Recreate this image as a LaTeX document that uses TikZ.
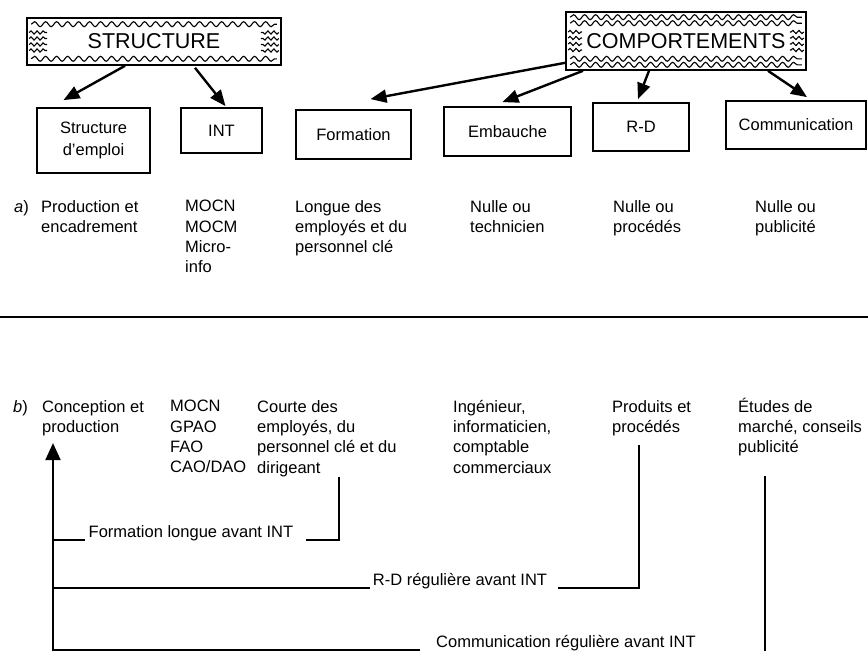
\documentclass[tikz,border=0pt]{standalone}
\usepackage{fontspec}
\setmainfont{Liberation Sans}
\usetikzlibrary{arrows.meta,calc,decorations.pathmorphing}

\tikzset{
  titre/.style={draw, line width=1.6pt, font=\fontsize{21.5}{24}\selectfont, inner sep=0},
  boite/.style={draw, line width=1.8pt, font=\fontsize{16.5}{22}\selectfont, align=center, inner sep=0},
  texte/.style={font=\fontsize{16.5}{20.3}\selectfont, align=left, anchor=north west, inner sep=0},
  legende/.style={font=\fontsize{16.5}{20}\selectfont, anchor=base, inner sep=0},
  fleche/.style={line width=2.4pt, -{Triangle[length=16pt,width=13pt]}},
  axe/.style={line width=2pt, -{Triangle[length=17pt,width=15pt]}, shorten >=7pt},
  trait/.style={line width=2pt},
  onde/.style={line width=1.1pt, decorate, decoration={snake, segment length=11pt, amplitude=2.5pt}},
  petiteonde/.style={line width=1.1pt, decorate, decoration={snake, segment length=6pt, amplitude=1.6pt}}
}

% bandeau ondule des en-tetes : #1 noeud, #2 rangees, #3 longueur laterale
\newcommand{\bandeau}[3]{%
  \foreach \dy in {#2}{
    \draw[onde] ([xshift=5pt,yshift=-\dy pt]#1.north west) -- ([xshift=-5pt,yshift=-\dy pt]#1.north east);
    \draw[onde] ([xshift=5pt,yshift=\dy pt]#1.south west) -- ([xshift=-5pt,yshift=\dy pt]#1.south east);
  }
  \foreach \dy in {-9,-3,3,9}{
    \draw[petiteonde] ([xshift=3pt,yshift=\dy pt]#1.west) -- ++(#3,0);
    \draw[petiteonde] ([xshift=-3pt,yshift=\dy pt]#1.east) -- ++(-#3,0);
  }
}

\begin{document}
\begin{tikzpicture}[x=1pt,y=-1pt]
\useasboundingbox (0,0) rectangle (868,651);

% en-tetes
\node[titre, minimum width=254pt, minimum height=47pt] (structure) at (154,41.5) {STRUCTURE};
\node[titre, minimum width=240pt, minimum height=58pt] (comport) at (686,41) {COMPORTEMENTS};
\bandeau{structure}{7}{18}
\bandeau{comport}{6,12}{14}

% boites
\node[boite, minimum width=113pt, minimum height=65pt] (emploi) at (93.5,140.5) {Structure\\d'emploi};
\node[boite, minimum width=81pt, minimum height=45pt] (int) at (221.5,130.5) {INT};
\node[boite, minimum width=115pt, minimum height=49pt] (formation) at (353.5,134.5) {Formation};
\node[boite, minimum width=127pt, minimum height=49pt] (embauche) at (507.5,131.5) {Embauche};
\node[boite, minimum width=96pt, minimum height=48pt] (rd) at (641,127) {R-D};
\node[boite, minimum width=140pt, minimum height=48pt] (comm) at (796,125) {Communication};

% fleches
\draw[fleche] ([xshift=-29pt]structure.south) -- ([xshift=-30pt,yshift=7pt]emploi.north);
\draw[fleche] ([xshift=41pt,yshift=-2pt]structure.south) -- ([xshift=4pt,yshift=1pt]int.north);
\draw[fleche] ([yshift=8pt]comport.south west) -- ([xshift=17pt,yshift=10pt]formation.north);
\draw[fleche] ([xshift=-103pt]comport.south) -- ([xshift=-5pt,yshift=4pt]embauche.north);
\draw[fleche] ([xshift=-37pt]comport.south) -- ([xshift=-3pt,yshift=3pt]rd.north);
\draw[fleche] ([xshift=82pt]comport.south) -- ([xshift=11pt,yshift=3pt]comm.north);

% ligne a)
\node[texte] (a) at (14,200) {\textit{a})};
\node[texte] (prodA) at (41,200) {Production et\\encadrement};
\node[texte] (intA) at (185,200) {MOCN\\MOCM\\Micro-\\info};
\node[texte] (formA) at (295,200) {Longue des\\employés et du\\personnel clé};
\node[texte] (embA) at (470,200) {Nulle ou\\technicien};
\node[texte] (rdA) at (613,200) {Nulle ou\\procédés};
\node[texte] (commA) at (755,200) {Nulle ou\\publicité};

% separation
\coordinate (sepG) at (0,317);
\coordinate (sepD) at (868,317);
\draw[line width=1.5pt] (sepG) -- (sepD);

% ligne b)
\node[texte] (b) at (13,400) {\textit{b})};
\node[texte] (conception) at (42,400) {Conception et\\production};
\node[texte] (intB) at (170,400) {MOCN\\GPAO\\FAO\\CAO/DAO};
\node[texte] (courte) at (257,400) {Courte des\\employés, du\\personnel clé et du\\dirigeant};
\node[texte] (inge) at (453,400) {Ingénieur,\\informaticien,\\comptable\\commerciaux};
\node[texte] (produits) at (612,400) {Produits et\\procédés};
\node[texte] (etudes) at (738,400) {\smash{É}tudes de\\marché, conseils\\publicité};

% axe
\coordinate (pied) at (53,651);
\draw[axe] (pied) -- (conception.south -| pied);

% formation longue
\node[legende] (flong) at (191,537) {Formation longue avant INT};
\draw[trait] ([xshift=12pt]courte.south) |- ([xshift=13pt,yshift=-3pt]flong.base east);
\draw[trait] ([xshift=-4pt,yshift=-3pt]flong.base west) -- ($(flong.base west -| pied)+(0,3)$);

% R-D
\node[legende] (frd) at (460,585) {R-D régulière avant INT};
\draw[trait] ([xshift=27pt,yshift=-9pt]produits.south west) |- ([xshift=11pt,yshift=-3pt]frd.base east);
\draw[trait] ([xshift=-3pt,yshift=-3pt]frd.base west) -- ($(frd.base west -| pied)+(0,3)$);

% communication
\node[legende] (fcomm) at (566,647) {Communication régulière avant INT};
\draw[trait] ([xshift=27pt,yshift=-20pt]etudes.south west) -- ($(etudes.south west |- pied)+(27,0)$);
\draw[trait] ([xshift=-16pt,yshift=-3pt]fcomm.base west) -- ($(fcomm.base west -| pied)+(0,3)$);

\end{tikzpicture}
\end{document}
